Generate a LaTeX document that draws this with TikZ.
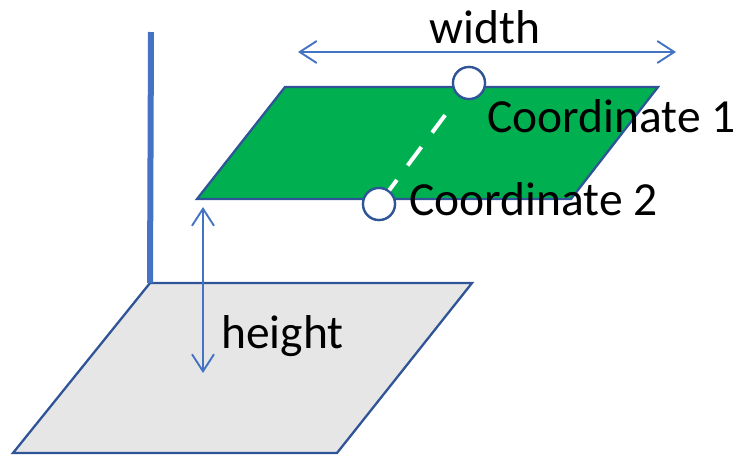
\documentclass[tikz,border=0pt]{standalone}
\usepackage{fontspec}
\setmainfont{Carlito}
\usetikzlibrary{arrows.meta}
\definecolor{edgeblue}{RGB}{47,85,151}
\definecolor{lineblue}{RGB}{68,114,196}
\definecolor{planegreen}{RGB}{0,176,80}
\definecolor{planegray}{RGB}{230,230,230}
\tikzset{
  plane/.style={draw=edgeblue, line width=2.3pt, line join=miter},
  dim/.style={draw=lineblue, line width=1.9pt, {Straight Barb[length=17pt,width=22pt,line width=1.9pt]}-{Straight Barb[length=17pt,width=22pt,line width=1.9pt]}},
  pt/.style={circle, draw=edgeblue, fill=white, line width=2.3pt, minimum size=32pt, inner sep=0pt},
  lbl/.style={anchor=base west, inner sep=0pt, font=\fontsize{47.5}{56}\selectfont},
}
\begin{document}
\begin{tikzpicture}[x=1pt,y=-1pt]
\useasboundingbox (0,0) rectangle (741,456);
% ground plane
\coordinate (g1) at (150,283);
\coordinate (g2) at (472,283);
\coordinate (g3) at (337,453);
\coordinate (g4) at (13,453);
\path[plane, fill=planegray] (g1) -- (g2) -- (g3) -- (g4) -- cycle;
% vertical pole
\coordinate (pt) at (151,32);
\draw[lineblue, line width=6pt] (pt) -- (g1);
% raised plane
\coordinate (p1) at (285,87);
\coordinate (p2) at (658,87);
\coordinate (p3) at (571,199);
\coordinate (p4) at (197,199);
\path[plane, fill=planegreen] (p1) -- (p2) -- (p3) -- (p4) -- cycle;
% points
\node[pt] (c1) at (469,83) {};
\node[pt] (c2) at (379,204) {};
\draw[white, line width=4pt, dash pattern=on 23pt off 18pt, shorten <=7pt, shorten >=40pt] (c2.center) -- (c1.center);
\node[pt] at (c1) {};
\node[pt] at (c2) {};
% width dimension
\coordinate (wl) at (298,52);
\coordinate (wr) at (676,52);
\draw[dim] (wl) -- (wr);
\node[anchor=base, inner sep=0pt, font=\fontsize{47.5}{56}\selectfont] (wt) at (485,43) {width};
% height dimension
\coordinate (ht) at (203,207);
\coordinate (hb) at (203,373);
\draw[dim] (ht) -- (hb);
\node[lbl] (hl) at (221,348) {height};
% labels
\node[lbl] (l1) at (487,132) {Coordinate 1};
\node[lbl] (l2) at (409,215) {Coordinate 2};
\end{tikzpicture}
\end{document}
